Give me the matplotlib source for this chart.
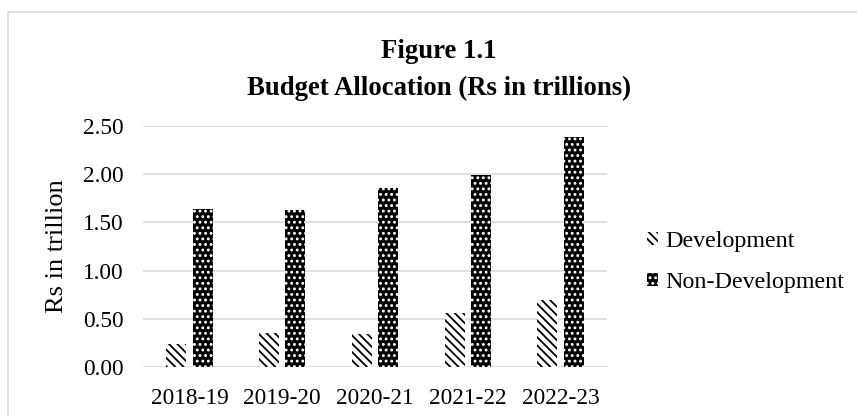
import matplotlib
matplotlib.use("Agg")
import matplotlib.pyplot as plt
from matplotlib.patches import Rectangle, Patch
import numpy as np

plt.rcParams['font.family'] = ['Liberation Serif', 'DejaVu Serif']
plt.rcParams['hatch.linewidth'] = 1.3

years = ["2018-19", "2019-20", "2020-21", "2021-22", "2022-23"]
development = [0.24, 0.35, 0.34, 0.56, 0.69]
non_development = [1.64, 1.63, 1.86, 1.99, 2.39]
y_ticks = [0.0, 0.5, 1.0, 1.5, 2.0, 2.5]

W, H = 857, 416
fig = plt.figure(figsize=(W / 100, H / 100), dpi=100)
ax = fig.add_axes([143 / W, 1 - 367 / H, 464 / W, 241 / H])

x = np.arange(len(years))
offset = 0.143
width = 0.215

ax.bar(x - offset, development, width, facecolor="white", edgecolor="black",
       linewidth=0, hatch="\\\\\\\\", zorder=3)
ax.bar(x + offset, non_development, width, facecolor="black", edgecolor="white",
       linewidth=0, hatch="...", zorder=3)

ax.set_xlim(-0.5, len(years) - 0.5)
ax.set_ylim(0, 2.5)
ax.set_yticks(y_ticks)
ax.set_yticklabels([f"{v:.2f}" for v in y_ticks])
ax.set_xticks(x)
ax.set_xticklabels(years)
ax.tick_params(axis="both", length=0, labelsize=16.8)
ax.tick_params(axis="y", pad=14)
ax.tick_params(axis="x", pad=15)
ax.grid(axis="y", color="#d9d9d9", linewidth=1.2, zorder=0)
for s in ax.spines.values():
    s.set_visible(False)

fig.text(57 / W, 1 - 246.5 / H, "Rs in trillion", rotation=90, ha="center",
         va="center", fontsize=19)

fig.text(439 / W, 1 - 52 / H, "Figure 1.1", ha="center", va="center",
         fontsize=19.3, fontweight="bold")
fig.text(439 / W, 1 - 88 / H, "Budget Allocation (Rs in trillions)", ha="center",
         va="center", fontsize=19.3, fontweight="bold")

handles = [
    Patch(facecolor="white", edgecolor="black", linewidth=0, hatch="\\\\\\\\"),
    Patch(facecolor="black", edgecolor="white", linewidth=0, hatch="..."),
]
fig.legend(handles, ["Development", "Non-Development"], loc="center left",
           bbox_to_anchor=(647 / W, 1 - 262 / H), frameon=False, fontsize=17.3,
           handlelength=0.45, handleheight=0.45, handletextpad=0.3,
           labelspacing=0.8, borderpad=0, borderaxespad=0)

# light outer frame around the chart
fig.patches.append(Rectangle((8 / W, -0.2), 2, 1 - 12 / H + 0.2,
                             transform=fig.transFigure, fill=False,
                             edgecolor="#d9d9d9", linewidth=1.2, zorder=0))

fig.savefig("out.png", dpi=100)
